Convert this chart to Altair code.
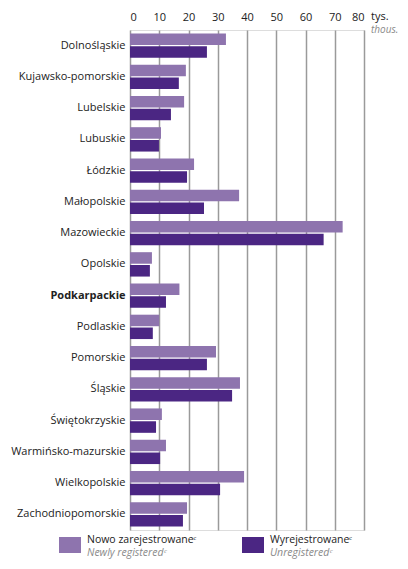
import altair as alt
import pandas as pd

regions = ["Dolnośląskie", "Kujawsko-pomorskie", "Lubelskie", "Lubuskie", "Łódzkie",
           "Małopolskie", "Mazowieckie", "Opolskie", "Podkarpackie", "Podlaskie",
           "Pomorskie", "Śląskie", "Świętokrzyskie", "Warmińsko-mazurskie",
           "Wielkopolskie", "Zachodniopomorskie"]
new_reg = [32.8, 19.1, 18.5, 10.6, 21.9, 37.3, 72.7, 7.5, 16.9, 10.0, 29.4, 37.6, 10.9, 12.3, 39.0, 19.5]
unreg = [26.3, 16.7, 14.0, 9.9, 19.5, 25.3, 66.2, 6.8, 12.3, 7.8, 26.3, 34.9, 8.9, 10.3, 30.8, 18.1]
series = ["Nowo zarejestrowane", "Wyrejestrowane"]
series_en = ["Newly registered", "Unregistered"]
colors = ["#8e74ae", "#4b2683"]
ticks = [0, 10, 20, 30, 40, 50, 60, 70, 80]

rows = []
for r, a, b in zip(regions, new_reg, unreg):
    rows.append({"region": r, "series": series[0], "value": a})
    rows.append({"region": r, "series": series[1], "value": b})
df = pd.DataFrame(rows)
one = pd.DataFrame({"k": [0]})

FONT = "Open Sans"
W, H = 234, 500

bars = alt.Chart(df).mark_bar().encode(
    x=alt.X("value:Q", scale=alt.Scale(domain=[0, 80], nice=False),
            axis=alt.Axis(orient="top", values=ticks, grid=True, gridColor="#9a9a9a",
                          gridWidth=1.5, domain=False, ticks=False, labelPadding=8,
                          title=None, labelFontSize=11, labelFont=FONT, labelColor="#222")),
    y=alt.Y("region:N", sort=regions,
            scale=alt.Scale(paddingInner=0.22, paddingOuter=0.11),
            axis=alt.Axis(title=None, domain=False, ticks=False, labelPadding=5,
                          labelFontSize=11, labelFont=FONT, labelColor="#222",
                          labelFontWeight=alt.condition("datum.value == 'Podkarpackie'",
                                                        alt.value("bold"), alt.value("normal")))),
    yOffset=alt.YOffset("series:N", sort=series, scale=alt.Scale(paddingInner=0.1)),
    color=alt.Color("series:N", scale=alt.Scale(domain=series, range=colors), legend=None),
)

unit_pl = alt.Chart(one).mark_text(text="tys.", align="left", baseline="middle", font=FONT,
                                   fontSize=11, color="#222").encode(
    x=alt.value(W + 7), y=alt.value(-13))
unit_en = alt.Chart(one).mark_text(text="thous.", align="left", baseline="middle", font=FONT,
                                   fontSize=10, fontStyle="italic", color="#8a8a8a").encode(
    x=alt.value(W + 7), y=alt.value(0))

legend_layers = []
sw_x = [-71, 112]
for i in range(2):
    legend_layers.append(alt.Chart(one).mark_rect(color=colors[i]).encode(
        x=alt.value(sw_x[i]), x2=alt.value(sw_x[i] + 22),
        y=alt.value(H + 7), y2=alt.value(H + 23)))
    legend_layers.append(alt.Chart(one).mark_text(text=series[i] + "ᶜ", align="left",
                                                  baseline="middle", font=FONT, fontSize=10.5,
                                                  color="#222").encode(
        x=alt.value(sw_x[i] + 28), y=alt.value(H + 10)))
    legend_layers.append(alt.Chart(one).mark_text(text=series_en[i] + "ᶜ", align="left",
                                                  baseline="middle", font=FONT, fontSize=10.5,
                                                  fontStyle="italic", color="#8a8a8a").encode(
        x=alt.value(sw_x[i] + 28), y=alt.value(H + 23)))

chart = alt.layer(bars, unit_pl, unit_en, *legend_layers).properties(
    width=W, height=H,
    autosize=alt.AutoSizeParams(type="none"),
    padding={"left": 122, "top": 22, "right": 36, "bottom": 31},
).configure_view(stroke=None).configure(background="white")

chart.save("out.html", embed_options={"renderer": "svg", "actions": False})
